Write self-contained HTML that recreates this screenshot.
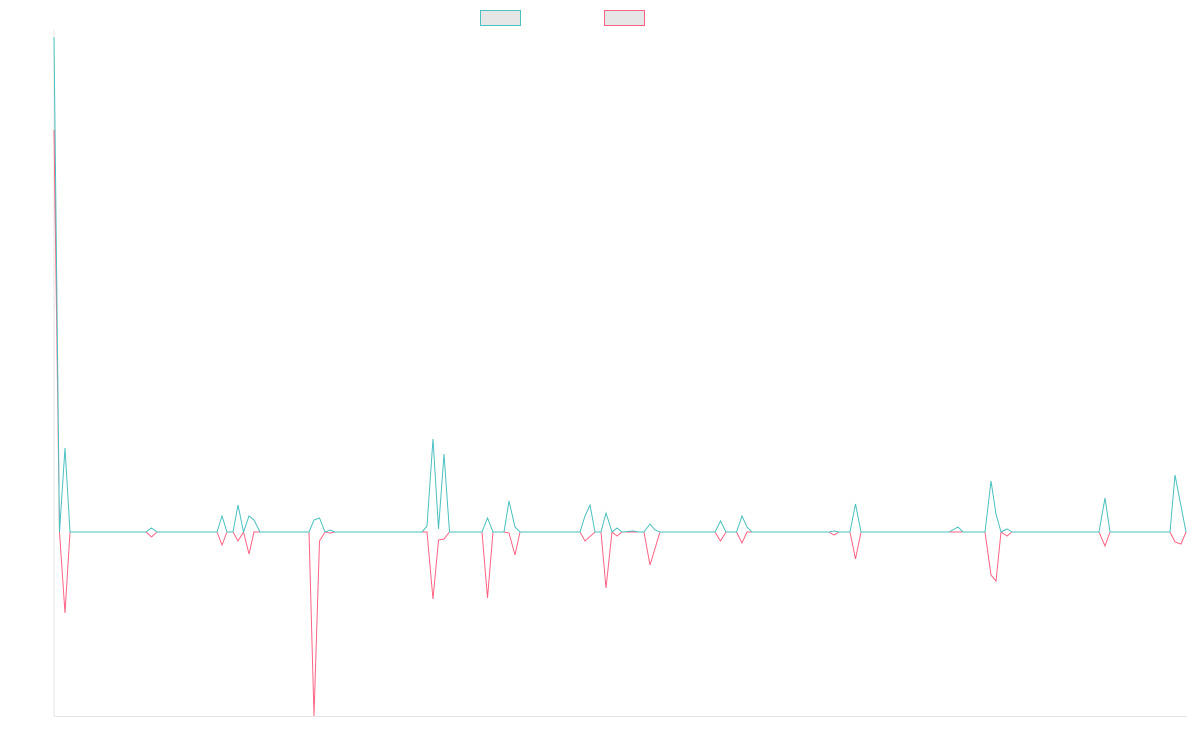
<!DOCTYPE html>
<html><head><meta charset="utf-8"><style>
html,body{margin:0;padding:0;background:#fff;}
svg{display:block;}
</style></head><body>
<svg width="1200" height="750" xmlns="http://www.w3.org/2000/svg">
<line x1="54" y1="30" x2="54" y2="716.5" stroke="#e5e5e5" stroke-width="1"/>
<line x1="54" y1="716.5" x2="1186" y2="716.5" stroke="#e5e5e5" stroke-width="1"/>
<rect x="480.5" y="10.5" width="40" height="15" fill="#e6e6e6" stroke="rgb(75,192,192)" stroke-width="1"/>
<rect x="604.5" y="10.5" width="40" height="15" fill="#e6e6e6" stroke="rgb(255,99,132)" stroke-width="1"/>
<polyline fill="none" stroke="rgb(255,99,132)" stroke-width="1" points="54,130 59.5,532 65,613 70,532 146,532 151.5,537 157,532 217,532 222,545 227,532 233,532 238,541 243.5,532 249,554 254,532 260,532 309,532 314,716 319.5,541 325,532 330,533 335,532 422,532 427,532 433,599 438.5,540 444,539 449.5,532 482,532 487.5,598 493,532 504,532 509,533 515,555 520,532 580,532 585,541 595,532 601,532 606,588 612,532 617,536 622,532 633,532 644,532 650,565 660,532 715,532 720.5,541 726,532 736.5,532 742,543 747,532 829,532 834,535 839,532 850,532 855.5,559 861,532 985,532 991,575 996,581 1001,532 1007,536 1012,532 1099,532 1105,546 1110,532 1170,532 1175,542 1181,544 1186,532"/>
<polyline fill="none" stroke="rgb(75,192,192)" stroke-width="1" points="54,37 59.5,532 65,448 70,532 146,532 151.5,528 157,532 217,532 222,516 227,532 233,532 238,505 243.5,532 249,516 254,520 260,532 309,532 314,520 319.5,518 325,532 330,530 335,532 422,532 427,526 433,439 438.5,529 444,454 449.5,532 482,532 487.5,518 493,532 504,532 509,501 515,527 520,532 580,532 585,516 590,505 595,532 601,532 606,513 612,532 617,528 622,532 633,531 639,532 644,532 650,524 655,530 660,532 715,532 720.5,521 726,532 736.5,532 742,516 747,527 752,532 829,532 834,531 839,532 850,532 855.5,504 861,532 949,532 958,527 963,532 985,532 991,481 996,514 1001,532 1007,529 1012,532 1099,532 1105,498 1110,532 1170,532 1175,475 1186,532"/>
</svg>
</body></html>
